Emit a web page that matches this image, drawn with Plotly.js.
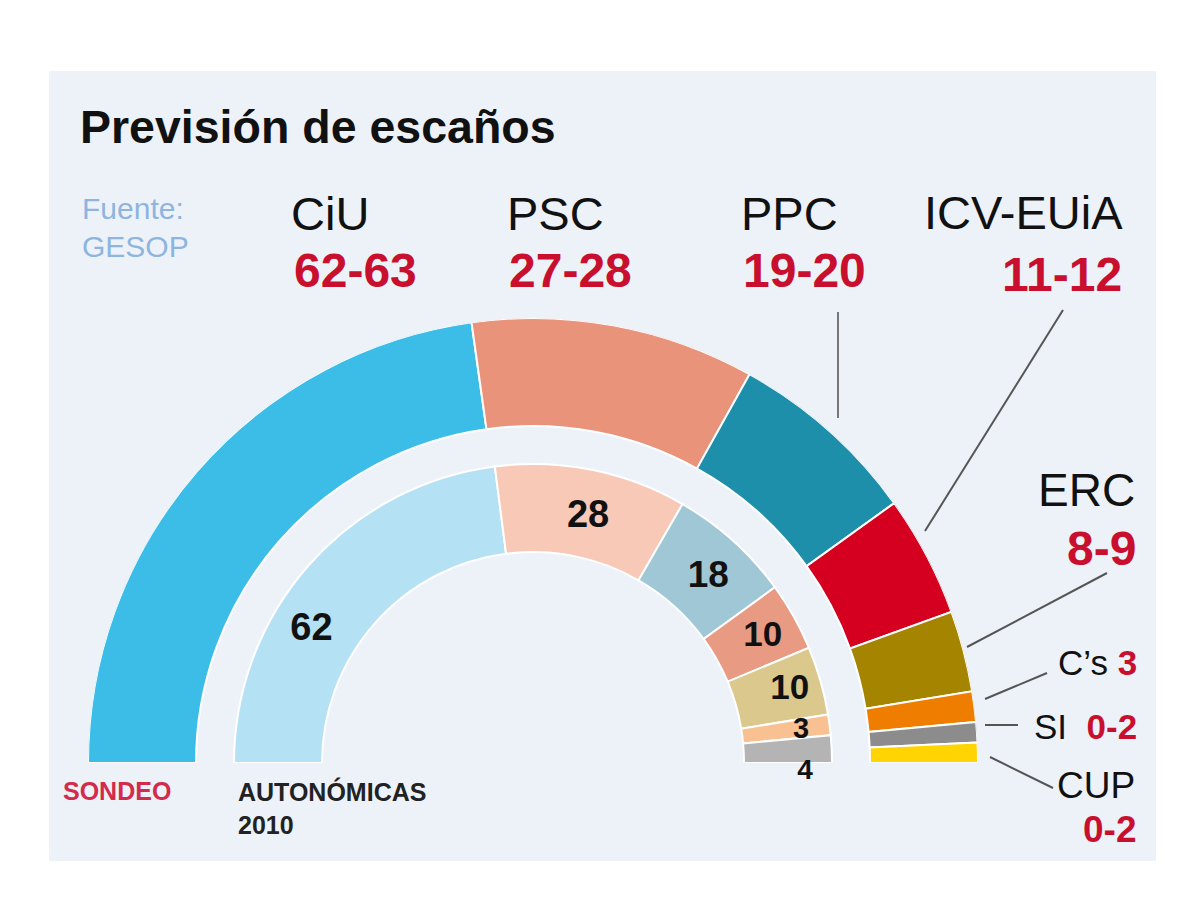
<!DOCTYPE html>
<html>
<head>
<meta charset="utf-8">
<script src="https://cdn.plot.ly/plotly-3.0.1.min.js"></script>
<style>html,body{margin:0;padding:0;background:#fff;}#chart{width:1200px;height:908px;}</style>
</head>
<body>
<div id="chart"></div>
<script>
// ---------- DATA ----------
const sondeoParties = ['CiU', 'PSC', 'PPC', 'ICV-EUiA', 'ERC', 'C’s', 'SI', 'CUP'];
const sondeoSeats   = [62, 28, 19, 12, 8, 3, 2, 2];           // arc sizes as drawn
const sondeoRanges  = ['62-63', '27-28', '19-20', '11-12', '8-9', '3', '0-2', '0-2'];
const autonParties  = ['CiU', 'PSC', 'PPC', 'ICV-EUiA', 'ERC', 'C’s', 'SI'];
const auton2010Seats = [62, 28, 18, 10, 10, 3, 4];

// ---------- STYLES ----------
const outerColors = ['#3bbde8', '#e9937a', '#1d8fab', '#d5001f', '#a58500', '#ef7d00', '#8c8c8c', '#ffd400'];
const innerColors = ['#b4e1f4', '#f7c9b6', '#a0c7d5', '#e89a82', '#dac88c', '#f9c091', '#b4b4b4'];
const labelR      = [258, 252, 255, 262, 267, 270, 272];
const labelShift  = [-10.5, 1.3, 1.4, 0.6, 0.1, 0.5, 1.6];
const labelPos    = ['middle center', 'middle center', 'middle center', 'middle center', 'middle center', 'middle center', 'bottom center'];
const labelSizes  = [38, 38, 37, 35, 35, 29, 28];
const RED = '#c8102e';
const FONT = 'Liberation Sans, Arial, Helvetica, sans-serif';
const W = 1200, H = 908;

function arcs(vals) {
  const tot = vals.reduce((a, b) => a + b, 0);
  let cum = 0; const th = [], w = [];
  vals.forEach(v => { th.push((cum + v / 2) / tot * 180); w.push(v / tot * 180); cum += v; });
  return {th, w};
}
const outer = arcs(sondeoSeats);
const inner = arcs(auton2010Seats);

const traces = [
  {
    type: 'barpolar', name: 'Sondeo',
    theta: outer.th, width: outer.w,
    r: sondeoSeats.map(() => 108), base: 337,
    text: sondeoParties,
    marker: {color: outerColors, line: {color: '#ffffff', width: 2}},
    hoverinfo: 'text'
  },
  {
    type: 'barpolar', name: 'Autonómicas 2010',
    theta: inner.th, width: inner.w,
    r: auton2010Seats.map(() => 88), base: 211,
    text: autonParties,
    marker: {color: innerColors, line: {color: '#ffffff', width: 2}},
    hoverinfo: 'text'
  },
  {
    type: 'scatterpolar', mode: 'text',
    r: labelR,
    theta: inner.th.map((t, i) => t + labelShift[i]),
    text: auton2010Seats.map(v => '<b>' + v + '</b>'),
    textposition: labelPos,
    textfont: {family: FONT, size: labelSizes, color: '#111111'},
    cliponaxis: false, hoverinfo: 'skip'
  }
];

function px(x) { return x / W; }
function py(y) { return 1 - y / H; }
function ann(text, x, y, size, color, xanchor, bold) {
  return {
    text: bold ? '<b>' + text + '</b>' : text,
    xref: 'paper', yref: 'paper', x: px(x), y: py(y),
    xanchor: xanchor, yanchor: 'middle', showarrow: false,
    font: {family: FONT, size: size, color: color}
  };
}
function redPart(t) { return '<b><span style="color:' + RED + '">' + t + '</span></b>'; }

const annotations = [
  ann('Fuente:', 80, 208, 30, '#8db5df', 'left', false),
  ann('GESOP', 80, 246, 30, '#8db5df', 'left', false),
  ann(sondeoParties[0], 289, 213, 47, '#111111', 'left', false),
  ann(sondeoRanges[0], 292, 271, 48, RED, 'left', true),
  ann(sondeoParties[1], 505, 213, 47, '#111111', 'left', false),
  ann(sondeoRanges[1], 507, 271, 48, RED, 'left', true),
  ann(sondeoParties[2], 739, 213, 47, '#111111', 'left', false),
  ann(sondeoRanges[2], 741, 271, 48, RED, 'left', true),
  ann(sondeoParties[3], 1125, 212, 47, '#111111', 'right', false),
  ann(sondeoRanges[3], 1124, 274, 48, RED, 'right', true),
  ann(sondeoParties[4], 1137, 490, 46, '#111111', 'right', false),
  ann(sondeoRanges[4], 1138, 548, 48, RED, 'right', true),
  ann(sondeoParties[5] + ' ' + redPart(sondeoRanges[5]), 1139, 662, 35, '#111111', 'right', false),
  ann(sondeoParties[6] + '  ' + redPart(sondeoRanges[6]), 1139, 726, 35, '#111111', 'right', false),
  ann(sondeoParties[7], 1137, 785, 37, '#111111', 'right', false),
  ann(sondeoRanges[7], 1138, 829, 37, RED, 'right', true),
  ann('SONDEO', 61, 791, 25, '#d42a4c', 'left', true),
  ann('AUTONÓMICAS', 236, 791, 25, '#222222', 'left', true),
  ann('2010', 236, 825, 25, '#222222', 'left', true)
];

function seg(x0, y0, x1, y1, color) {
  return {type: 'line', xref: 'paper', yref: 'paper', x0: px(x0), y0: py(y0), x1: px(x1), y1: py(y1),
          line: {color: color || '#555555', width: 2}};
}
const shapes = [
  {type: 'rect', xref: 'paper', yref: 'paper', x0: px(49), x1: px(1156), y0: py(861), y1: py(71),
   fillcolor: '#edf2f9', line: {width: 0}, layer: 'below'},
  seg(838, 312, 838, 418, '#777777'),
  seg(1063, 310, 925, 531),
  seg(1107, 573, 967, 647),
  seg(1047, 673, 985, 699),
  seg(1018, 725, 985, 725),
  seg(990, 757, 1053, 788)
];

const layout = {
  width: W, height: H,
  margin: {l: 0, r: 0, t: 0, b: 0},
  paper_bgcolor: '#ffffff',
  showlegend: false,
  title: {
    text: '<b>Previsión de escaños</b>',
    x: px(80), xanchor: 'left', y: py(127), yanchor: 'middle', yref: 'container', xref: 'container',
    font: {family: FONT, size: 46.5, color: '#111111'}
  },
  polar: {
    domain: {x: [px(88), px(978)], y: [py(763), py(318)]},
    sector: [0, 180],
    hole: 0,
    bgcolor: 'rgba(0,0,0,0)',
    radialaxis: {visible: false, range: [0, 445], showgrid: false, showline: false, showticklabels: false, ticks: ''},
    angularaxis: {visible: false, rotation: 180, direction: 'clockwise', thetaunit: 'degrees',
                  showgrid: false, showline: false, showticklabels: false, ticks: ''}
  },
  barmode: 'overlay',
  annotations: annotations,
  shapes: shapes
};

Plotly.newPlot('chart', traces, layout, {staticPlot: true, displayModeBar: false});
</script>
</body>
</html>
